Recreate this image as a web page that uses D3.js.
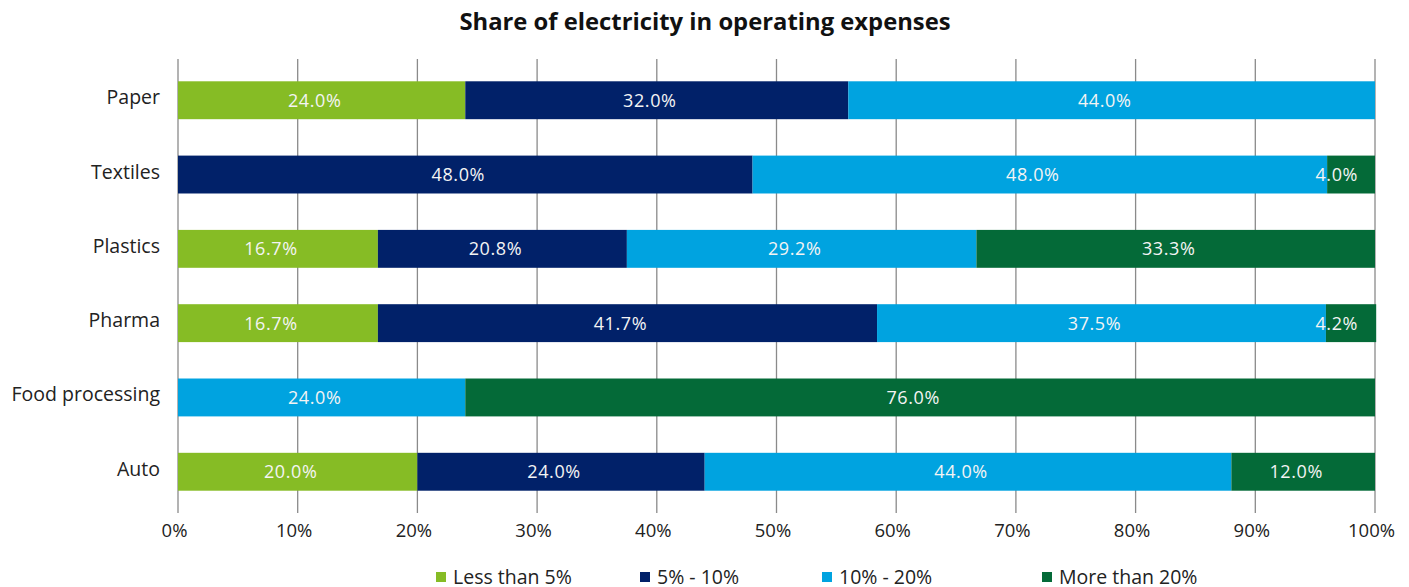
<!DOCTYPE html>
<html>
<head>
<meta charset="utf-8">
<script src="https://cdn.jsdelivr.net/npm/d3@7"></script>
<style>
  body { margin: 0; background: #fff; }
  text { font-family: "Open Sans", "Noto Sans", sans-serif; }
</style>
</head>
<body>
<svg width="1409" height="587"></svg>
<script>
var svg = d3.select("svg");
var width = +svg.attr("width");
var height = +svg.attr("height");

var categories = ["Paper", "Textiles", "Plastics", "Pharma", "Food processing", "Auto"];
var seriesNames = ["Less than 5%", "5% - 10%", "10% - 20%", "More than 20%"];
var seriesColors = ["#86BC25", "#012169", "#00A3E0", "#046A38"];
var lessThan5 = [24.0, 0, 16.7, 16.7, 0, 20.0];
var from5to10 = [32.0, 48.0, 20.8, 41.7, 0, 24.0];
var from10to20 = [44.0, 48.0, 29.2, 37.5, 24.0, 44.0];
var moreThan20 = [0, 4.0, 33.3, 4.2, 76.0, 12.0];
var xTicks = [0, 10, 20, 30, 40, 50, 60, 70, 80, 90, 100];

var rows = categories.map(function(c, i) {
    return {cat: c, v: [lessThan5[i], from5to10[i], from10to20[i], moreThan20[i]]};
});

var plotLeft = 178, plotRight = 1375, plotTop = 59, plotBottom = 513;

var x = d3.scaleLinear().domain([0, 100]).range([plotLeft, plotRight]);
var y = d3.scaleBand().domain(categories).range([plotTop, plotBottom])
          .paddingInner(0.49).paddingOuter(0.3);

// title
svg.append("text")
   .attr("x", 705)
   .attr("y", 30)
   .attr("text-anchor", "middle")
   .style("font-size", "23.8px")
   .style("font-weight", "bold")
   .style("fill", "#111")
   .text("Share of electricity in operating expenses");

// grid lines
svg.append("g")
   .selectAll("line")
   .data(xTicks)
   .enter()
   .append("line")
   .attr("x1", function(d) { return x(d); })
   .attr("x2", function(d) { return x(d); })
   .attr("y1", plotTop)
   .attr("y2", plotBottom)
   .attr("stroke", "#8a8a8a")
   .attr("stroke-width", 1.3);

// bars
rows.forEach(function(r) {
    var acc = 0;
    r.v.forEach(function(val, k) {
        if (val > 0) {
            var x0 = x(acc), x1 = x(acc + val);
            svg.append("rect")
               .attr("x", x0)
               .attr("y", y(r.cat))
               .attr("width", x1 - x0)
               .attr("height", y.bandwidth())
               .attr("fill", seriesColors[k]);
            var cx = (x0 + x1) / 2 - 7;
            var t = svg.append("text")
               .attr("x", cx)
               .attr("y", y(r.cat) + y.bandwidth() / 2 + 6.5)
               .attr("text-anchor", "middle")
               .style("font-size", "18px")
               .style("letter-spacing", "0.6px")
               .style("fill", "#f4f4f4")
               .text(val.toFixed(1) + "%");
            // keep labels of thin end segments inside the plot
            var w = t.node().getComputedTextLength();
            if (cx + w / 2 > plotRight - 17) {
                t.attr("x", plotRight - 17 - w / 2);
            }
        }
        acc += val;
    });
});

// category labels
svg.append("g")
   .selectAll("text")
   .data(categories)
   .enter()
   .append("text")
   .attr("x", 160)
   .attr("y", function(d) { return y(d) + y.bandwidth() / 2 + 4; })
   .attr("text-anchor", "end")
   .style("font-size", "19.5px")
   .style("fill", "#222")
   .text(function(d) { return d; });

// x tick labels
svg.append("g")
   .selectAll("text")
   .data(xTicks)
   .enter()
   .append("text")
   .attr("x", function(d) { return x(d) - 3.5; })
   .attr("y", 536.5)
   .attr("text-anchor", "middle")
   .style("font-size", "18.5px")
   .style("fill", "#222")
   .text(function(d) { return d + "%"; });

// legend
var legendX = [436, 640, 822, 1042];
seriesNames.forEach(function(n, k) {
    svg.append("rect")
       .attr("x", legendX[k])
       .attr("y", 572)
       .attr("width", 10)
       .attr("height", 10)
       .attr("fill", seriesColors[k]);
    svg.append("text")
       .attr("x", legendX[k] + 17)
       .attr("y", 584)
       .style("font-size", "19.5px")
       .style("fill", "#222")
       .text(n);
});
</script>
</body>
</html>
